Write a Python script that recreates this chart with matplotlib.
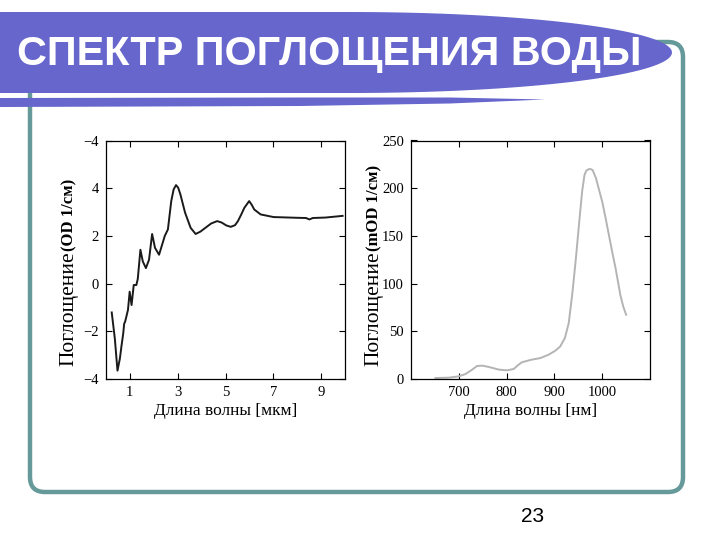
import matplotlib
matplotlib.use("Agg")
import matplotlib.pyplot as plt
import numpy as np
from matplotlib.patches import Polygon, FancyBboxPatch

# spectrum 1: wide range, micrometres
wl_um = [0.24, 0.37, 0.48, 0.58, 0.65, 0.72, 0.76, 0.8, 0.92, 0.99, 1.07, 1.16, 1.27, 1.33,
         1.44, 1.54, 1.67, 1.8, 1.93, 2.05, 2.22, 2.46, 2.59, 2.73, 2.83, 2.93, 3.02, 3.11,
         3.31, 3.54, 3.75, 3.95, 4.16, 4.4, 4.65, 4.84, 5.03, 5.22, 5.4, 5.52, 5.66, 5.79,
         5.99, 6.1, 6.2, 6.47, 7.01, 7.97, 8.37, 8.51, 8.65, 9.19, 9.9]
od = [-1.21, -2.31, -3.65, -3.15, -2.6, -2.1, -1.68, -1.6, -1.1, -0.34, -0.9, -0.06, -0.06, 0.2,
      1.42, 0.93, 0.65, 1.0, 2.08, 1.5, 1.21, 2.0, 2.27, 3.46, 3.95, 4.13, 4.02, 3.75,
      2.97, 2.34, 2.08, 2.18, 2.34, 2.52, 2.62, 2.56, 2.44, 2.38, 2.45, 2.62, 2.9, 3.18,
      3.46, 3.3, 3.11, 2.9, 2.79, 2.76, 2.75, 2.69, 2.75, 2.77, 2.84]
yt1 = [-4, -2, 0, 2, 4, 6]
yt1_lbl = ['\u22124', '\u22122', '0', '2', '4', '\u22124']
xt1 = [1, 3, 5, 7, 9]

# spectrum 2: near IR, nm
wl_nm = [651, 679, 700, 714, 728, 738, 749, 763, 784, 801, 815, 825, 832, 850, 871, 888,
         902, 912, 922, 930, 938, 945, 952, 958, 963, 967, 972, 976, 980, 987, 993, 1000,
         1007, 1014, 1021, 1028, 1038, 1044, 1050]
mod = [1, 1.4, 2.8, 5.2, 9.8, 13.6, 14, 12.6, 9.8, 9.1, 10.5, 15, 17.5, 20, 22, 25.5,
       29.7, 34, 43, 58.7, 91.8, 126.7, 165, 196.6, 214, 218.5, 220, 220, 219, 210.5, 199, 186,
       169, 151, 133, 116, 88, 76, 67.4]
yt2 = [0, 50, 100, 150, 200, 250]
xt2 = [700, 800, 900, 1000]

purple = '#6666CC'
teal = '#669999'
serif = 'Liberation Serif'

fig = plt.figure(figsize=(7.2, 5.4), dpi=100)
fig.patch.set_facecolor('white')

# slide decoration in pixel coords
bg = fig.add_axes([0, 0, 1, 1], zorder=0)
bg.set_xlim(0, 720)
bg.set_ylim(540, 0)
bg.axis('off')

frame = FancyBboxPatch((30, 42), 653, 450, boxstyle='round,pad=0,rounding_size=15',
                       fill=False, edgecolor=teal, linewidth=3.2)
bg.add_patch(frame)

cx, cy, a, b = 350, 52.5, 322, 40.5
t = np.linspace(np.pi / 2, -np.pi / 2, 80)
ell = np.column_stack([cx + a * np.cos(t), cy - b * np.sin(t)])
banner = np.vstack([[[0, cy - b]], ell, [[0, cy + b]]])
bg.add_patch(Polygon(banner, closed=True, facecolor=purple, edgecolor='none'))
strip = [(0, 98), (300, 97.5), (450, 97.5), (545, 99.5), (450, 103.5), (300, 106), (0, 107)]
bg.add_patch(Polygon(strip, closed=True, facecolor=purple, edgecolor='none'))

fig.text(17 / 720, 1 - 65 / 540, 'СПЕКТР ПОГЛОЩЕНИЯ ВОДЫ', fontsize=29.8, fontweight='bold',
         family='Liberation Sans', color='white', ha='left', va='baseline')
fig.text(533 / 720, 1 - 516 / 540, '23', fontsize=15, family='Liberation Sans',
         ha='center', va='center')


def style(ax):
    ax.tick_params(direction='in', length=4, width=0.8, top=True, right=True,
                   labelsize=10.5, pad=5)
    for lb in ax.get_xticklabels() + ax.get_yticklabels():
        lb.set_family(serif)
    for s in ax.spines.values():
        s.set_linewidth(0.9)


def ylabel(x_px, big, small):
    t1 = fig.text(x_px / 720, 1 - 366 / 540, big, rotation=90, rotation_mode='anchor',
                  ha='left', va='baseline', fontsize=15.5, family=serif)
    fig.add_artist(plt.Annotation(small, xy=(x_px / 720, 1.0),
                                  xycoords=('figure fraction', t1),
                                  xytext=(0, 0), textcoords='offset points',
                                  rotation=90, rotation_mode='anchor', ha='left',
                                  va='baseline', fontsize=12, fontweight='bold',
                                  family=serif))


ax1 = fig.add_axes([106 / 720, 1 - 379 / 540, 239 / 720, 238.5 / 540], zorder=2)
ax1.plot(wl_um, od, color='#1a1a1a', linewidth=1.4)
ax1.set_xlim(0, 10)
ax1.set_ylim(-4, 6)
ax1.set_xticks(xt1)
ax1.set_yticks(yt1)
ax1.set_yticklabels(yt1_lbl)
ax1.set_xlabel('Длина волны [мкм]', family=serif, fontsize=12.5, labelpad=3)
style(ax1)
ylabel(73, 'Поглощение', '(OD 1/см)')

ax2 = fig.add_axes([411 / 720, 1 - 379 / 540, 239 / 720, 238.5 / 540], zorder=2)
ax2.plot(wl_nm, mod, color='#b4b4b4', linewidth=1.4)
ax2.set_xlim(600, 1100)
ax2.set_ylim(0, 250)
ax2.set_xticks(xt2)
ax2.set_yticks(yt2)
ax2.set_xlabel('Длина волны [нм]', family=serif, fontsize=12.5, labelpad=3)
style(ax2)
ylabel(378, 'Поглощение', '(mOD 1/см)')

fig.savefig('out.png', dpi=100)
